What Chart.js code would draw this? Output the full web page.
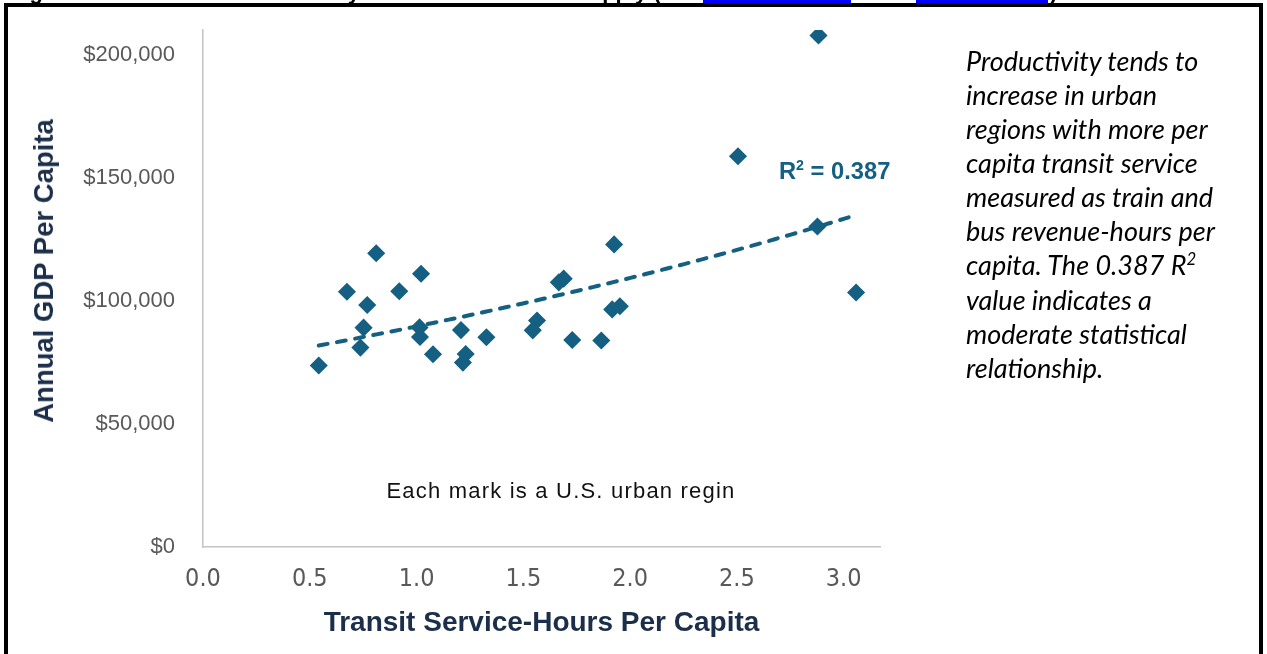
<!DOCTYPE html>
<html>
<head>
<meta charset="utf-8">
<script src="https://cdn.jsdelivr.net/npm/chart.js@4.4.1/dist/chart.umd.min.js"></script>
<style>
  html, body { margin:0; padding:0; background:#fff; width:1267px; height:654px; overflow:hidden; }
  #wrap { position:relative; width:1267px; height:654px; overflow:hidden; }
  #c { position:absolute; left:0; top:0; }
  .frame { position:absolute; left:4px; top:3px; width:1251px; height:720px; border:4px solid #000; z-index:3; pointer-events:none; }
  .figtitle { position:absolute; left:10px; top:-21px; font:bold 22px 'Liberation Sans', Arial, sans-serif; line-height:25px; white-space:nowrap; color:#000; z-index:2; }
  .lnk { position:absolute; top:-21px; height:25px; background:#0000ff; color:#0000ff; font:bold 22px 'Liberation Sans', Arial, sans-serif; line-height:25px; white-space:nowrap; overflow:hidden; z-index:2; }
  .close { position:absolute; left:1050px; top:-21px; font:bold 22px 'Liberation Sans', Arial, sans-serif; line-height:25px; z-index:2; }
  .ytitle { position:absolute; left:44px; top:271px; transform:translate(-50%,-50%) rotate(-90deg); font:bold 27.5px 'Liberation Sans', Arial, sans-serif; color:#1c2f4a; white-space:nowrap; z-index:2; }
  .r2 { position:absolute; left:779px; top:157px; font:bold 23.7px 'Liberation Sans', Arial, sans-serif; color:#156082; white-space:nowrap; z-index:2; line-height:28px; }
  .r2 sup { font-size:60%; vertical-align:0; position:relative; top:-9px; }
  .note { position:absolute; left:561px; top:491px; transform:translate(-50%,-50%); font:22px 'Liberation Sans', Arial, sans-serif; letter-spacing:1.2px; color:#111; white-space:nowrap; z-index:2; }
  .side { position:absolute; left:966px; top:43.5px; font:italic 27px Lato, 'Open Sans', sans-serif; line-height:34.15px; color:#000; white-space:nowrap; z-index:2; }
  .side sup { font-size:62%; line-height:0; vertical-align:0; position:relative; top:-10px; }
</style>
</head>
<body>
<div id="wrap">
  <canvas id="c" width="1267" height="654"></canvas>
  <div class="figtitle">Figure 3: Urban Area Productivity and Transit Service Supply (</div>
  <div class="lnk" style="left:703px;width:148px;">Source data</div>
  <div class="figtitle" style="left:858px;">and</div>
  <div class="lnk" style="left:916px;width:132px;">Source data</div>
  <div class="close">)</div>
  <div class="frame"></div>
  <div class="ytitle">Annual GDP Per Capita</div>
  <div class="r2">R<sup>2</sup> = 0.387</div>
  <div class="note">Each mark is a U.S. urban regin</div>
  <div class="side">Productivity tends to<br>increase in urban<br>regions with more per<br>capita transit service<br>measured as train and<br>bus revenue-hours per<br>capita. The 0.387 R<sup>2</sup><br>value indicates a<br>moderate statistical<br>relationship.</div>
</div>
<script>
// ---- Data ----
const SERVICE_HOURS = [0.542, 0.674, 0.737, 0.752, 0.769, 0.811, 0.919, 1.021, 1.014, 1.016,
                       1.077, 1.208, 1.217, 1.230, 1.327, 1.544, 1.564, 1.666, 1.689, 1.729,
                       1.865, 1.916, 1.925, 1.952, 2.505, 2.882, 2.877, 3.058];
const GDP_PER_CAPITA = [73700, 103700, 81000, 89100, 98300, 119300, 103900, 111000, 89200, 85300,
                        78300, 88100, 74900, 78400, 85200, 88000, 92000, 107500, 109000, 84100,
                        83900, 96500, 122900, 97800, 158700, 207800, 130200, 103400];
const X_TICKS = [0, 0.5, 1.0, 1.5, 2.0, 2.5, 3.0];
const Y_TICKS = [0, 50000, 100000, 150000, 200000];
const X_MAX = 3.17;
const Y_MAX = 210000;

// Exponential trendline (least squares on ln y), as Excel computes it
function expFit(xs, ys) {
  const n = xs.length;
  const ly = ys.map(Math.log);
  const mx = xs.reduce((a, b) => a + b, 0) / n;
  const my = ly.reduce((a, b) => a + b, 0) / n;
  let sxy = 0, sxx = 0;
  for (let i = 0; i < n; i++) { sxy += (xs[i] - mx) * (ly[i] - my); sxx += (xs[i] - mx) ** 2; }
  const b = sxy / sxx;
  return { a: Math.exp(my - b * mx), b };
}
const fit = expFit(SERVICE_HOURS, GDP_PER_CAPITA);
const xMin = Math.min(...SERVICE_HOURS), xMax = Math.max(...SERVICE_HOURS);
const trend = [];
for (let i = 0; i <= 100; i++) {
  const x = xMin + (xMax - xMin) * i / 100;
  trend.push({ x, y: fit.a * Math.exp(fit.b * x) });
}

const points = SERVICE_HOURS.map((x, i) => ({ x, y: GDP_PER_CAPITA[i] }));
const BLUE = '#156082';
const AXIS = '#c4c4c4';

function clearPad(s) { s.paddingTop = 0; s.paddingBottom = 0; s.paddingLeft = 0; s.paddingRight = 0; }

new Chart(document.getElementById('c').getContext('2d'), {
  type: 'scatter',
  data: {
    datasets: [
      { label: 'Urban regions', data: points, pointStyle: 'rectRot', pointRadius: 8, pointHoverRadius: 8,
        backgroundColor: BLUE, borderColor: BLUE, borderWidth: 1.5, order: 1 },
      { label: 'Trend', type: 'line', data: trend, showLine: true, pointRadius: 0, pointHoverRadius: 0,
        borderColor: BLUE, borderWidth: 4, borderDash: [9, 9.5], borderCapStyle: 'round',
        fill: false, tension: 0, order: 2 }
    ]
  },
  options: {
    responsive: false,
    animation: false,
    devicePixelRatio: 1,
    layout: { padding: { top: 30, right: 387, left: 0, bottom: 0 } },
    plugins: { legend: { display: false }, tooltip: { enabled: false } },
    scales: {
      x: {
        type: 'linear', min: 0, max: X_MAX,
        afterBuildTicks: s => { s.ticks = X_TICKS.map(v => ({ value: v })); },
        afterFit: s => { s.height = 107; clearPad(s); },
        grid: { display: false, drawTicks: false },
        border: { display: true, color: AXIS, width: 1.5 },
        ticks: { padding: 17, color: '#595959', autoSkip: false, maxRotation: 0,
                 font: { family: "'Liberation Sans Narrow', 'DejaVu Sans Condensed', 'Liberation Sans'", size: 25 },
                 callback: v => Number(v).toFixed(1) },
        title: { display: true, text: 'Transit Service-Hours Per Capita', color: '#1c2f4a',
                 font: { family: "'Liberation Sans', Arial", weight: 'bold', size: 28 },
                 padding: { top: 0, bottom: 14 } }
      },
      y: {
        type: 'linear', min: 0, max: Y_MAX,
        afterBuildTicks: s => { s.ticks = Y_TICKS.map(v => ({ value: v })); },
        afterFit: s => { s.width = 203; clearPad(s); },
        grid: { display: false, drawTicks: false },
        border: { display: true, color: AXIS, width: 1.5 },
        ticks: { padding: 28, color: '#595959',
                 font: { family: "'Liberation Sans', Arial", size: 22 },
                 callback: v => '$' + Number(v).toLocaleString('en-US') }
      }
    }
  }
});
</script>
</body>
</html>
